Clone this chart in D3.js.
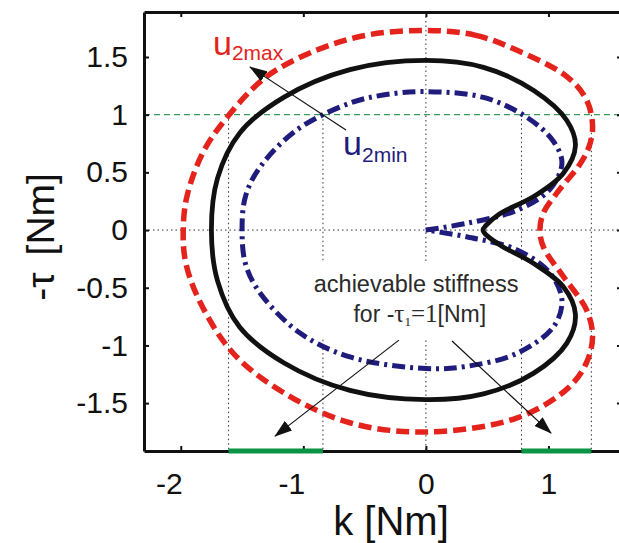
<!DOCTYPE html>
<html>
<head>
<meta charset="utf-8">
<script src="https://cdn.jsdelivr.net/npm/d3@7"></script>
<style>
  body { margin: 0; background: #fff; }
  svg { display: block; font-family: "Liberation Sans", Arial, sans-serif; }
</style>
</head>
<body>
<div id="chart"></div>
<script>
// tick values and labels
const kTicks = [-2, -1, 0, 1];
const kTickLabels = ["-2", "-1", "0", "1"];
const tauTicks = [-1.5, -1, -0.5, 0, 0.5, 1, 1.5];
const tauTickLabels = ["-1.5", "-1", "-0.5", "0", "0.5", "1", "1.5"];

// u2max boundary (red dashed, closed)
const u2maxK   = [0, 0.40, 0.74, 1.15, 1.31, 1.36, 1.33, 1.25, 1.09, 0.96, 0.93, 0.96, 1.12, 1.31, 1.36, 1.31, 1.16, 0.74, 0, -0.62, -1.16, -1.57, -1.84, -1.96, -1.98, -1.95, -1.82, -1.62, -1.30, -0.89, -0.48];
const u2maxTau = [1.73, 1.69, 1.56, 1.33, 1.13, 0.90, 0.72, 0.56, 0.35, 0.15, 0, -0.15, -0.40, -0.69, -0.92, -1.15, -1.37, -1.63, -1.75, -1.67, -1.41, -1.07, -0.63, -0.28, 0, 0.29, 0.67, 0.98, 1.33, 1.56, 1.69];

// middle boundary (black solid, closed)
const midK   = [0, 0.47, 0.88, 1.15, 1.22, 1.12, 0.88, 0.60, 0.49, 0.466, 0.50, 0.62, 0.88, 1.12, 1.22, 1.15, 0.88, 0.47, 0, -0.62, -1.16, -1.52, -1.70, -1.75, -1.70, -1.52, -1.16, -0.62];
const midTau = [1.47, 1.41, 1.21, 0.95, 0.73, 0.49, 0.29, 0.14, 0.04, 0, -0.05, -0.14, -0.29, -0.49, -0.73, -0.98, -1.24, -1.42, -1.47, -1.39, -1.15, -0.84, -0.44, 0, 0.45, 0.84, 1.15, 1.39];

// u2min boundary (blue dash-dot, starts and ends at origin)
const u2minK   = [0, 0.34, 0.74, 1.01, 1.11, 1.04, 0.82, 0.47, 0, -0.35, -0.62, -1.05, -1.35, -1.47, -1.50, -1.47, -1.35, -1.03, -0.62, 0, 0.34, 0.74, 1.04, 1.11, 1.01, 0.74, 0.34, 0];
const u2minTau = [0, 0.06, 0.17, 0.35, 0.58, 0.77, 0.98, 1.15, 1.20, 1.17, 1.10, 0.87, 0.55, 0.30, 0, -0.30, -0.55, -0.89, -1.10, -1.20, -1.18, -1.07, -0.84, -0.61, -0.37, -0.17, -0.06, 0];

// reference torque and achievable stiffness ranges
const tauRef = 1;
const stiffLow  = [-1.61, 0.78];
const stiffHigh = [-0.84, 1.35];

const width = 619, height = 543;
const x = d3.scaleLinear().domain([-2.3, 1.6]).range([144, 622]);
const y = d3.scaleLinear().domain([-1.915, 1.89]).range([451, 12]);

const svg = d3.select("#chart").append("svg")
    .attr("width", width)
    .attr("height", height);

svg.append("rect").attr("width", width).attr("height", height).attr("fill", "#fff");

const defs = svg.append("defs");
defs.append("marker")
    .attr("id", "arrow")
    .attr("viewBox", "0 -6 18 12")
    .attr("refX", 17)
    .attr("refY", 0)
    .attr("markerUnits", "userSpaceOnUse")
    .attr("markerWidth", 18)
    .attr("markerHeight", 12)
    .attr("orient", "auto")
    .append("path")
    .attr("d", "M0,-6L18,0L0,6Z")
    .attr("fill", "#111");

const [x0, x1] = x.range();
const [yb, yt] = y.range();

// dotted zero lines
const dotted = { stroke: "#333", width: 1, dash: "1.5,3" };
svg.append("line")
    .attr("x1", x(0)).attr("x2", x(0)).attr("y1", yt).attr("y2", yb)
    .attr("stroke", dotted.stroke).attr("stroke-width", dotted.width).attr("stroke-dasharray", dotted.dash);
svg.append("line")
    .attr("x1", x0).attr("x2", x1).attr("y1", y(0)).attr("y2", y(0))
    .attr("stroke", dotted.stroke).attr("stroke-width", dotted.width).attr("stroke-dasharray", dotted.dash);

// dotted drop lines at stiffness bounds
const bounds = stiffLow.concat(stiffHigh);
svg.selectAll("line.drop")
    .data(bounds)
    .enter().append("line")
    .attr("class", "drop")
    .attr("x1", d => x(d)).attr("x2", d => x(d))
    .attr("y1", y(tauRef)).attr("y2", yb)
    .attr("stroke", dotted.stroke).attr("stroke-width", dotted.width).attr("stroke-dasharray", dotted.dash);

// green dashed reference torque line
svg.append("line")
    .attr("x1", x0).attr("x2", x1).attr("y1", y(tauRef)).attr("y2", y(tauRef))
    .attr("stroke", "#3a9e5c").attr("stroke-width", 1.2).attr("stroke-dasharray", "6,4");

// white box behind the annotation text (hides grid only)
svg.append("rect")
    .attr("x", x(-0.946)).attr("y", y(-0.277))
    .attr("width", x(0.85) - x(-0.946))
    .attr("height", y(-0.936) - y(-0.277))
    .attr("fill", "#fff");

const closedLine = d3.line().x(d => x(d[0])).y(d => y(d[1])).curve(d3.curveCatmullRomClosed.alpha(0.5));
const openLine = d3.line().x(d => x(d[0])).y(d => y(d[1])).curve(d3.curveCatmullRom.alpha(0.5));

svg.append("path")
    .datum(u2minK.map((k, i) => [k, u2minTau[i]]))
    .attr("d", openLine)
    .attr("fill", "none")
    .attr("stroke", "#1f1c7c")
    .attr("stroke-width", 5)
    .attr("stroke-dasharray", "13,5,3,5");

svg.append("path")
    .datum(midK.map((k, i) => [k, midTau[i]]))
    .attr("d", closedLine)
    .attr("fill", "none")
    .attr("stroke", "#111")
    .attr("stroke-width", 4.8);

svg.append("path")
    .datum(u2maxK.map((k, i) => [k, u2maxTau[i]]))
    .attr("d", closedLine)
    .attr("fill", "none")
    .attr("stroke", "#e3231c")
    .attr("stroke-width", 5.5)
    .attr("stroke-dasharray", "13,6");

// axes
function styleAxis(g) {
    g.select(".domain").attr("stroke", "#111").attr("stroke-width", 3);
    g.selectAll(".tick line").attr("stroke", "#111").attr("stroke-width", 2);
    g.selectAll(".tick text").attr("fill", "#111").style("font-size", "30px")
        .style("font-family", '"Liberation Sans", Arial, sans-serif');
}

svg.append("g")
    .attr("transform", `translate(0,${yb})`)
    .call(d3.axisBottom(x).tickValues(kTicks).tickSize(-5).tickSizeOuter(0).tickPadding(22)
        .tickFormat((d, i) => kTickLabels[i]))
    .call(styleAxis)
    .selectAll(".tick text").attr("dx", d => d < 0 ? -12 : 0);

svg.append("g")
    .attr("transform", `translate(${x0},0)`)
    .call(d3.axisLeft(y).tickValues(tauTicks).tickSize(-5).tickSizeOuter(0).tickPadding(16)
        .tickFormat((d, i) => tauTickLabels[i]))
    .call(styleAxis);

svg.append("g")
    .attr("transform", `translate(0,${yt})`)
    .call(d3.axisTop(x).tickValues(kTicks).tickSize(-5).tickSizeOuter(0).tickFormat(""))
    .call(styleAxis);

svg.append("g")
    .attr("transform", `translate(${x1},0)`)
    .call(d3.axisRight(y).tickValues(tauTicks).tickSize(-5).tickSizeOuter(0).tickFormat(""))
    .call(styleAxis);

// achievable stiffness ranges on the k axis
svg.selectAll("line.range")
    .data(stiffLow.map((lo, i) => [lo, stiffHigh[i]]))
    .enter().append("line")
    .attr("class", "range")
    .attr("x1", d => x(d[0])).attr("x2", d => x(d[1]))
    .attr("y1", yb).attr("y2", yb)
    .attr("stroke", "#0b9444")
    .attr("stroke-width", 5);

// axis titles
svg.append("text")
    .attr("x", 391).attr("y", 535)
    .attr("text-anchor", "middle")
    .style("font-size", "40px")
    .attr("fill", "#111")
    .text("k [Nm]");

svg.append("text")
    .attr("transform", "translate(54,237) rotate(-90)")
    .attr("text-anchor", "middle")
    .style("font-size", "39px")
    .attr("fill", "#111")
    .call(t => {
        t.append("tspan").text("-τ");
        t.append("tspan").attr("dx", 17).text("[Nm]");
    });

// annotations (positions in data units)
const arrows = [
    [-0.652, 0.867, -1.435, 1.413],
    [-0.22, -0.954, -1.231, -1.786],
    [0.213, -0.962, 1.021, -1.760]
];
svg.selectAll("line.ann")
    .data(arrows)
    .enter().append("line")
    .attr("class", "ann")
    .attr("x1", d => x(d[0])).attr("y1", d => y(d[1]))
    .attr("x2", d => x(d[2])).attr("y2", d => y(d[3]))
    .attr("stroke", "#111")
    .attr("stroke-width", 1.2)
    .attr("marker-end", "url(#arrow)");

const maxLabel = svg.append("text")
    .attr("x", x(-1.737)).attr("y", y(1.517))
    .attr("fill", "#e3231c");
maxLabel.append("tspan").style("font-size", "34px").text("u");
maxLabel.append("tspan").attr("dy", 5).style("font-size", "21px").text("2max");

const minLabel = svg.append("text")
    .attr("x", x(-0.676)).attr("y", y(0.65))
    .attr("fill", "#1f1c7c");
minLabel.append("tspan").style("font-size", "34px").text("u");
minLabel.append("tspan").attr("dy", 7).style("font-size", "21px").text("2min");

svg.append("text")
    .attr("x", x(-0.08)).attr("y", y(-0.538))
    .attr("text-anchor", "middle")
    .style("font-size", "23.5px")
    .attr("fill", "#2a2a2a")
    .text("achievable stiffness");

const serif = '"Liberation Serif", "Times New Roman", serif';
const forLabel = svg.append("text")
    .attr("x", x(-0.05)).attr("y", y(-0.798))
    .attr("text-anchor", "middle")
    .style("font-size", "23px")
    .attr("fill", "#2a2a2a");
forLabel.append("tspan").text("for -");
forLabel.append("tspan").style("font-family", serif).style("font-size", "25px").text("τ");
forLabel.append("tspan").attr("dy", 4).style("font-family", serif).style("font-size", "13px").text("1");
forLabel.append("tspan").attr("dy", -4).style("font-family", serif).style("font-size", "25px").text("=1");
forLabel.append("tspan").text("[Nm]");
</script>
</body>
</html>
